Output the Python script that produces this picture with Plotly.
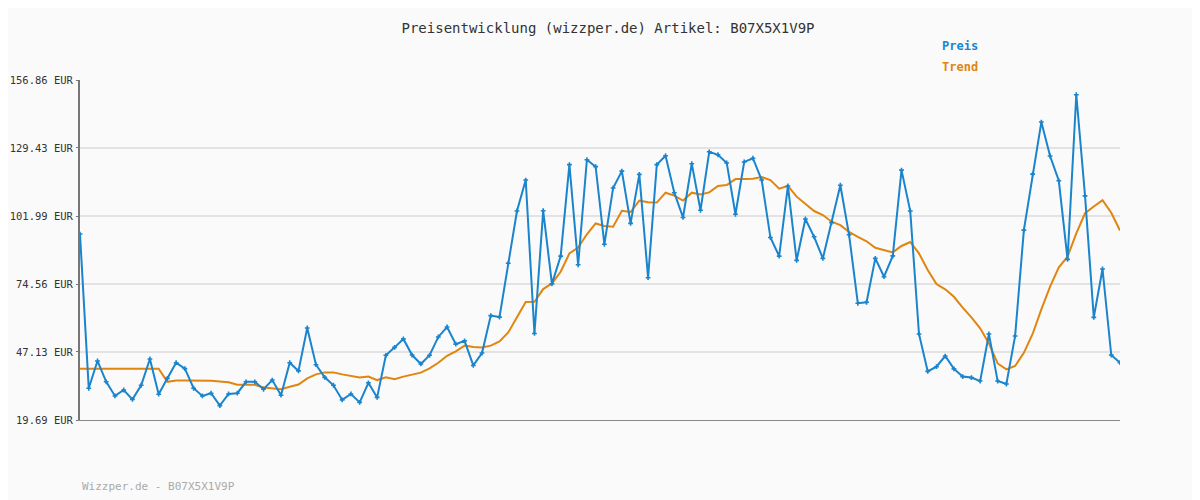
import plotly.graph_objects as go

preis = [94.7, 32.5, 43.5, 35.1, 29.4, 31.8, 28.0, 33.7, 44.3, 30.1,
         36.5, 42.8, 40.4, 32.5, 29.4, 30.5, 25.5, 30.2, 30.5, 35.1,
         35.1, 32.1, 35.8, 29.7, 42.8, 39.5, 56.8, 42.0, 36.9, 33.7,
         27.8, 30.2, 26.8, 34.7, 28.8, 45.8, 49.0, 52.4, 45.9, 42.3,
         45.8, 53.2, 57.2, 50.3, 51.6, 41.7, 46.7, 61.8, 61.2, 82.9,
         104.0, 116.5, 54.6, 104.1, 74.6, 85.8, 122.7, 82.3, 124.7, 121.9,
         90.6, 113.3, 120.1, 99.0, 118.8, 77.1, 122.7, 126.3, 111.4, 101.4,
         123.1, 104.3, 127.9, 126.7, 123.4, 102.7, 123.8, 125.3, 116.5, 93.3,
         85.8, 114.1, 84.1, 100.8, 93.6, 84.9, 99.3, 114.4, 94.4, 66.8,
         67.2, 84.9, 77.5, 85.9, 120.5, 104.0, 54.4, 39.3, 41.2, 45.5,
         40.3, 37.2, 36.8, 35.4, 54.4, 35.4, 34.2, 53.6, 96.3, 118.9,
         139.9, 126.2, 116.2, 84.5, 150.9, 110.1, 61.1, 80.6, 45.9, 42.8]

trend = [40.4, 40.4, 40.4, 40.4, 40.4, 40.4, 40.4, 40.4, 40.4, 40.4,
         35.1, 35.6, 35.6, 35.6, 35.6, 35.5, 35.2, 34.9, 33.9, 33.9,
         33.9, 32.8, 32.6, 32.1, 33.1, 34.0, 36.5, 38.1, 38.9, 38.9,
         38.1, 37.5, 36.8, 37.2, 35.8, 36.9, 36.1, 37.2, 38.0, 38.8,
         40.5, 42.8, 45.6, 47.4, 49.7, 49.1, 48.9, 49.7, 51.4, 55.0,
         61.1, 67.3, 67.4, 72.5, 74.8, 79.5, 86.9, 89.3, 94.6, 99.0,
         98.0, 97.7, 104.1, 103.6, 108.2, 107.5, 107.4, 111.4, 110.2, 108.2,
         111.4, 110.7, 111.5, 114.1, 114.5, 116.9, 116.9, 117.0, 117.7, 116.5,
         113.0, 114.1, 109.8, 106.8, 104.0, 102.4, 99.7, 98.3, 95.6, 93.6,
         91.8, 89.2, 88.3, 87.3, 89.9, 91.5, 86.9, 80.2, 74.5, 72.4,
         69.4, 65.0, 61.1, 56.7, 50.6, 42.5, 40.1, 41.5, 46.8, 54.4,
         64.3, 73.5, 81.3, 85.6, 95.0, 103.1, 105.8, 108.4, 103.3, 96.1]

tick_vals = [19.69, 47.13, 74.56, 101.99, 129.43, 156.86]
tick_text = ["%.2f EUR" % v for v in tick_vals]

blue = "#1a84cc"
orange = "#e0850f"
mono = "DejaVu Sans Mono, monospace"

x = list(range(len(preis)))

fig = go.Figure()
fig.add_trace(go.Scatter(x=x, y=trend, mode="lines", name="Trend",
                         line=dict(color=orange, width=2)))
fig.add_trace(go.Scatter(x=x, y=preis, mode="lines+markers", name="Preis",
                         line=dict(color=blue, width=2),
                         marker=dict(symbol="cross", size=4, color=blue)))

# the page has an 8px body margin, so margins are shifted by 8
fig.update_layout(
    width=1200, height=500,
    paper_bgcolor="#fafafa", plot_bgcolor="#fafafa",
    margin=dict(l=72, r=88, t=72, b=88),
    showlegend=False,
    font=dict(family=mono, size=12, color="#333333"),
    title=dict(text="Preisentwicklung (wizzper.de) Artikel: B07X5X1V9P",
               x=0.5, xanchor="center", y=0.96, yanchor="middle",
               font=dict(family=mono, size=14, color="#333333")),
)
fig.update_xaxes(range=[0, len(preis) - 1], showticklabels=False, showgrid=False,
                 zeroline=False, showline=True, linecolor="#888888", linewidth=1,
                 automargin=False)
fig.update_yaxes(range=[tick_vals[0], tick_vals[-1]], tickvals=tick_vals, ticktext=tick_text,
                 showgrid=True, gridcolor="#e3e3e3", gridwidth=2, zeroline=False,
                 showline=True, linecolor="#777777", linewidth=2,
                 ticks="outside", ticklen=2, tickcolor="#777777", automargin=False,
                 ticklabelstandoff=1,
                 tickfont=dict(family=mono, size=10.5, color="#333333"))

fig.add_annotation(text="<b>Preis</b>", xref="paper", yref="paper", x=0.827, y=1.1,
                   xanchor="left", yanchor="middle", showarrow=False,
                   font=dict(family=mono, size=12, color=blue))
fig.add_annotation(text="<b>Trend</b>", xref="paper", yref="paper", x=0.827, y=1.038,
                   xanchor="left", yanchor="middle", showarrow=False,
                   font=dict(family=mono, size=12, color=orange))
fig.add_annotation(text="Wizzper.de - B07X5X1V9P", xref="paper", yref="paper", x=0, y=-0.197,
                   xanchor="left", yanchor="middle", showarrow=False,
                   font=dict(family=mono, size=11, color="#aaaaaa"))

fig.write_html("out.html")
